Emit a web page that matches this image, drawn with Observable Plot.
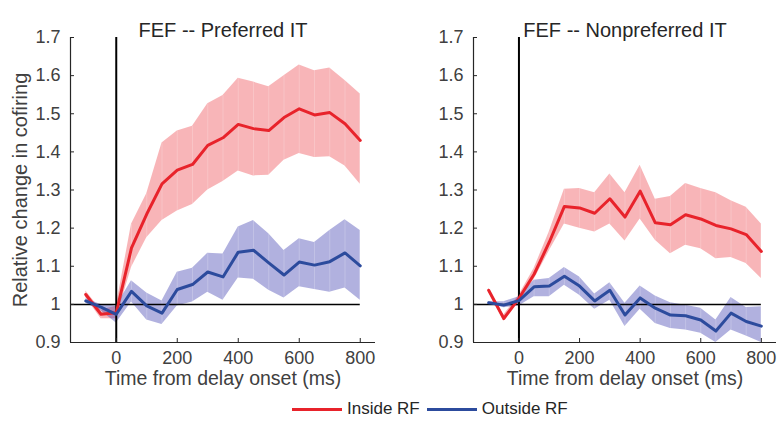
<!DOCTYPE html>
<html>
<head>
<meta charset="utf-8">
<script src="https://cdn.jsdelivr.net/npm/d3@7"></script>
<script src="https://cdn.jsdelivr.net/npm/@observablehq/plot@0.6"></script>
<style>
  html, body { margin: 0; padding: 0; background: #fff; }
  #wrap { position: relative; width: 778px; height: 421px; font-family: "Liberation Sans", Arial, sans-serif; }
  #panels { display: flex; }
  #legend { position: absolute; left: 292px; top: 399px; display: flex; align-items: center; font-size: 17px; color: #262626; }
  #legend .sw { width: 50px; height: 0; border-top: 3px solid; margin-right: 5px; }
  #legend .item { display: flex; align-items: center; margin-right: 7px; }
</style>
</head>
<body>
<div id="wrap">
  <div id="panels"></div>
  <div id="legend"></div>
</div>
<script>
const time = [-100, -50, 0, 50, 100, 150, 200, 250, 300, 350, 400, 450, 500, 550, 600, 650, 700, 750, 800];

// Left panel: FEF -- Preferred IT
const leftInside   = [1.026, 0.974, 0.978, 1.148, 1.237, 1.316, 1.352, 1.367, 1.417, 1.437, 1.472, 1.461, 1.456, 1.490, 1.513, 1.497, 1.503, 1.474, 1.430];
const leftInsideHi = [1.035, 0.985, 0.995, 1.210, 1.290, 1.423, 1.455, 1.467, 1.526, 1.548, 1.593, 1.583, 1.571, 1.600, 1.628, 1.613, 1.620, 1.587, 1.552];
const leftInsideLo = [1.018, 0.962, 0.962, 1.097, 1.175, 1.220, 1.245, 1.262, 1.300, 1.322, 1.350, 1.337, 1.339, 1.378, 1.396, 1.385, 1.387, 1.363, 1.315];
const leftOutside   = [1.009, 0.993, 0.974, 1.034, 0.996, 0.977, 1.039, 1.052, 1.085, 1.072, 1.137, 1.142, 1.109, 1.077, 1.111, 1.103, 1.112, 1.135, 1.101];
const leftOutsideHi = [1.015, 1.000, 0.996, 1.062, 1.030, 1.009, 1.084, 1.095, 1.134, 1.132, 1.203, 1.220, 1.185, 1.141, 1.172, 1.162, 1.194, 1.222, 1.194];
const leftOutsideLo = [1.003, 0.983, 0.951, 1.006, 0.959, 0.947, 0.996, 1.006, 1.032, 1.011, 1.069, 1.066, 1.037, 1.017, 1.046, 1.039, 1.032, 1.043, 1.011];

// Right panel: FEF -- Nonpreferred IT
const rightInside   = [1.037, 0.963, 1.016, 1.079, 1.163, 1.257, 1.253, 1.239, 1.277, 1.229, 1.297, 1.214, 1.209, 1.235, 1.224, 1.207, 1.198, 1.183, 1.139];
const rightInsideHi = [1.042, 0.972, 1.024, 1.094, 1.190, 1.302, 1.304, 1.293, 1.342, 1.293, 1.365, 1.276, 1.283, 1.317, 1.304, 1.293, 1.272, 1.255, 1.211];
const rightInsideLo = [1.032, 0.955, 1.008, 1.065, 1.140, 1.211, 1.200, 1.190, 1.211, 1.166, 1.224, 1.168, 1.133, 1.155, 1.146, 1.120, 1.123, 1.107, 1.068];
const rightOutside   = [1.004, 0.998, 1.010, 1.046, 1.048, 1.074, 1.048, 1.009, 1.037, 0.972, 1.017, 0.990, 0.972, 0.970, 0.959, 0.930, 0.977, 0.955, 0.943];
const rightOutsideHi = [1.007, 1.007, 1.020, 1.063, 1.068, 1.097, 1.072, 1.027, 1.057, 1.003, 1.048, 1.022, 1.004, 0.998, 0.990, 0.959, 1.018, 0.992, 0.994];
const rightOutsideLo = [1.001, 0.991, 0.996, 1.020, 1.020, 1.050, 1.024, 0.987, 1.011, 0.942, 0.987, 0.950, 0.937, 0.933, 0.924, 0.900, 0.933, 0.917, 0.900];

const xTicks = [0, 200, 400, 600, 800];
const yTicks = [0.9, 1, 1.1, 1.2, 1.3, 1.4, 1.5, 1.6, 1.7];
const xDomain = [-150, 850];
const yDomain = [0.9, 1.7];
const titles = ["FEF -- Preferred IT", "FEF -- Nonpreferred IT"];
const xLabel = "Time from delay onset (ms)";
const yLabel = "Relative change in cofiring";
const seriesNames = ["Inside RF", "Outside RF"];

const RED = "#e8232b", RED_FILL = "#ec3c44";
const BLUE = "#2c4b9d", BLUE_FILL = "#3d3daf";
const AXIS = "#262626", TEXT = "#404040";

function rows(mean, lo, hi) {
  return time.map((t, i) => ({t, m: mean[i], lo: lo[i], hi: hi[i]}));
}

function panel({title, inside, outside, width, marginLeft, marginRight, showYLabel}) {
  const seam = {x: "t", y1: "lo", y2: "hi", stroke: "white", strokeOpacity: 0.35, strokeWidth: 0.6};
  return Plot.plot({
    width, height: 392,
    marginTop: 37, marginBottom: 50, marginLeft, marginRight,
    x: {domain: xDomain},
    y: {domain: yDomain},
    style: {fontFamily: "'Liberation Sans', Arial, sans-serif", fontSize: "18px", color: TEXT, background: "white", overflow: "visible"},
    marks: [
      Plot.areaY(inside, {x: "t", y1: "lo", y2: "hi", fill: RED_FILL, fillOpacity: 0.38, clip: true}),
      Plot.ruleX(inside, {...seam, clip: true}),
      Plot.areaY(outside, {x: "t", y1: "lo", y2: "hi", fill: BLUE_FILL, fillOpacity: 0.4, clip: true}),
      Plot.ruleX(outside, {...seam, clip: true}),
      Plot.ruleY([1], {x1: xDomain[0], x2: 800, stroke: "black", strokeWidth: 1.5}),
      Plot.ruleX([0], {y1: yDomain[0], y2: yDomain[1], stroke: "black", strokeWidth: 2}),
      Plot.lineY(inside, {x: "t", y: "m", stroke: RED, strokeWidth: 3, clip: true}),
      Plot.lineY(outside, {x: "t", y: "m", stroke: BLUE, strokeWidth: 3, clip: true}),
      Plot.ruleX([xDomain[0]], {stroke: AXIS, strokeWidth: 1.2}),
      Plot.ruleY([yDomain[0]], {stroke: AXIS, strokeWidth: 1.2}),
      Plot.axisY({ticks: yTicks, tickFormat: d => String(d), tickSize: -4, tickPadding: 14, label: null, stroke: AXIS}),
      Plot.axisX({ticks: xTicks, tickFormat: d => String(d), tickSize: -4, tickPadding: 13, label: null, stroke: AXIS}),
      Plot.text([title], {frameAnchor: "top", dy: -15, fontSize: 20, fill: "#262626"}),
      Plot.text([xLabel], {frameAnchor: "bottom", dy: 42, fontSize: 19.5, fill: TEXT}),
      showYLabel ? Plot.text([yLabel], {frameAnchor: "left", dx: -50, rotate: -90, textAnchor: "middle", fontSize: 20, fill: TEXT}) : null
    ]
  });
}

const panels = document.getElementById("panels");
panels.append(panel({
  title: titles[0],
  inside: rows(leftInside, leftInsideLo, leftInsideHi),
  outside: rows(leftOutside, leftOutsideLo, leftOutsideHi),
  width: 400, marginLeft: 70, marginRight: 25, showYLabel: true
}));
panels.append(panel({
  title: titles[1],
  inside: rows(rightInside, rightInsideLo, rightInsideHi),
  outside: rows(rightOutside, rightOutsideLo, rightOutsideHi),
  width: 378, marginLeft: 73, marginRight: 2, showYLabel: false
}));

const legend = document.getElementById("legend");
[[seriesNames[0], RED], [seriesNames[1], BLUE]].forEach(([name, color]) => {
  const item = document.createElement("div");
  item.className = "item";
  const sw = document.createElement("span");
  sw.className = "sw";
  sw.style.borderTopColor = color;
  const lab = document.createElement("span");
  lab.textContent = name;
  item.append(sw, lab);
  legend.append(item);
});
</script>
</body>
</html>
